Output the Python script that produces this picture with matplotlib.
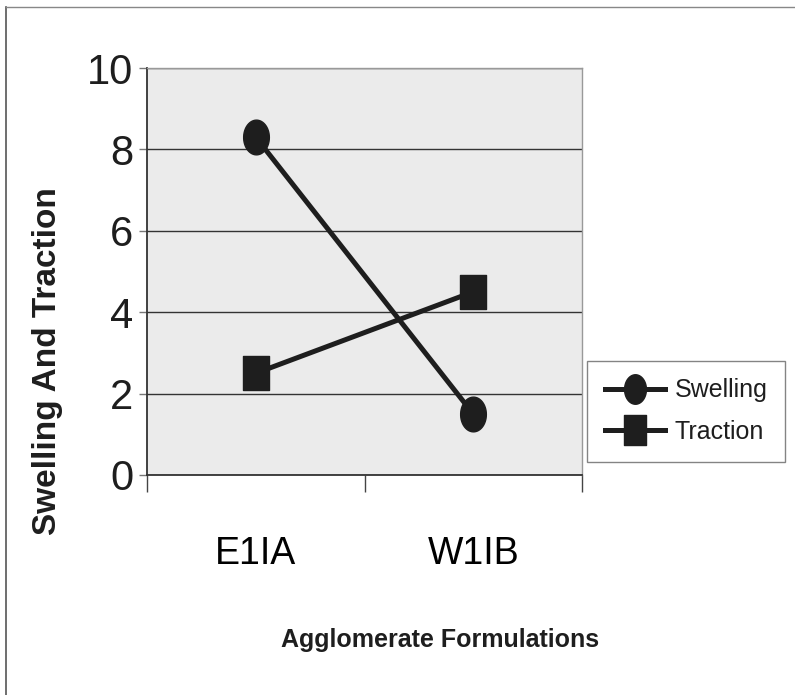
import numpy as np
import matplotlib
matplotlib.use("Agg")
import matplotlib.pyplot as plt
from matplotlib.path import Path
from matplotlib.lines import Line2D

formulations = ["E1IA", "W1IB"]
swelling = [8.3, 1.5]
traction = [2.5, 4.5]
y_ticks = [0, 2, 4, 6, 8, 10]

plt.rcParams['font.family'] = ['Liberation Sans', 'DejaVu Sans']
narrow = ['Liberation Sans Narrow', 'Liberation Sans', 'DejaVu Sans']

# tall ellipse and tall box markers (the chart is stretched vertically)
t = np.linspace(0, 2 * np.pi, 60)
ellipse = Path(np.column_stack([0.74 * np.cos(t), np.sin(t)]), closed=True)
box = Path([(-0.75, -1), (0.75, -1), (0.75, 1), (-0.75, 1), (-0.75, -1)], closed=True)

fig = plt.figure(figsize=(7.95, 6.95), dpi=100)
ax = fig.add_axes([147 / 795, 1 - 475 / 695, 435 / 795, 407 / 695])
ax.set_facecolor('#ebebeb')

x = np.arange(len(formulations))
ax.plot(x, swelling, color='#1e1e1e', lw=3.6, marker=ellipse, ms=25,
        label='Swelling', zorder=3)
ax.plot(x, traction, color='#1e1e1e', lw=3.6, marker=box, ms=25,
        label='Traction', zorder=3)

ax.set_xlim(-0.5, 1.5)
ax.set_ylim(0, 10)
ax.set_yticks(y_ticks)
ax.yaxis.grid(True, color='#333333', lw=1)
ax.set_axisbelow(True)

ax.set_xticks(x)
ax.set_xticklabels(formulations, family=narrow, fontsize=27)
ax.set_xticks([-0.5, 0.5, 1.5], minor=True)
ax.tick_params(axis='x', which='major', length=0, pad=44)
ax.tick_params(axis='x', which='minor', length=12, width=1, color='#444444')
ax.tick_params(axis='y', length=6, width=1, color='#777777', pad=4)
for lab in ax.get_yticklabels():
    lab.set_family(narrow)
    lab.set_fontsize(30)
    lab.set_color('#1e1e1e')

for s in ['left', 'bottom']:
    ax.spines[s].set_color('#333333')
    ax.spines[s].set_linewidth(1.3)
for s in ['top', 'right']:
    ax.spines[s].set_color('#999999')
    ax.spines[s].set_linewidth(1)
    ax.spines[s].set_linestyle((0, (2, 1)))

fig.text(48 / 795, 1 - 361 / 695, 'Swelling And Traction', rotation=90,
         ha='center', va='center', fontsize=24, fontweight='bold', color='#1e1e1e')
fig.text(440 / 795, 1 - 640 / 695, 'Agglomerate Formulations', ha='center',
         va='center', family=narrow, fontsize=18, fontweight='bold', color='#1e1e1e')

leg = ax.legend(loc='upper left', bbox_to_anchor=(587 / 795, 1 - 361 / 695),
                bbox_transform=fig.transFigure, borderaxespad=0, fontsize=18,
                frameon=True, fancybox=False, edgecolor='#666666',
                handlelength=2.4, borderpad=0.7, labelspacing=0.7,
                handletextpad=0.4, markerscale=0.85)
leg.get_frame().set_linewidth(1)
for txt in leg.get_texts():
    txt.set_color('#1e1e1e')

# outer chart border
fig.add_artist(Line2D([6 / 795, 6 / 795], [0, 1 - 7 / 695],
                      transform=fig.transFigure, color='#555555', lw=1.2))
fig.add_artist(Line2D([6 / 795, 1], [1 - 7 / 695, 1 - 7 / 695],
                      transform=fig.transFigure, color='#888888', lw=1))

fig.savefig('out.png', dpi=100)
